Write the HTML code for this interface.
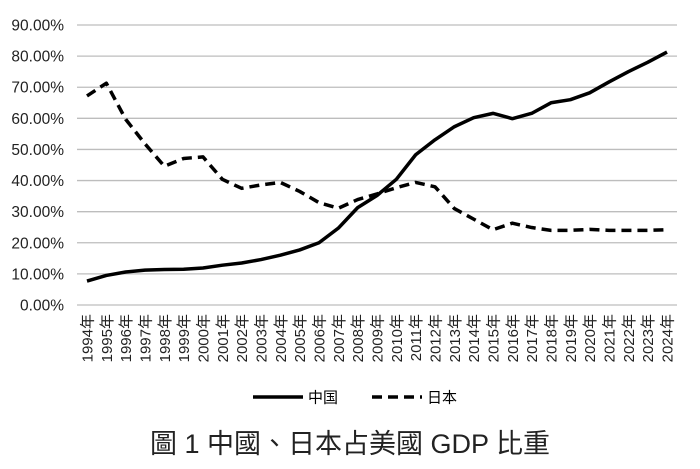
<!DOCTYPE html>
<html><head><meta charset="utf-8"><style>
body{margin:0;background:#fff;}
svg{display:block;font-family:"Liberation Sans","Noto Sans CJK TC",sans-serif;}
</style></head><body>
<svg id="chart" width="700" height="469" viewBox="0 0 700 469" xmlns="http://www.w3.org/2000/svg">
<g id="grid"></g>
<g id="yticks"></g>
<g id="xticks"></g>
<g id="series"></g>
<g>
  <line x1="253" y1="397" x2="303" y2="397" stroke="#000" stroke-width="3.5"/>
  <text x="308" y="402.5" font-size="15">中国</text>
  <line x1="372" y1="397" x2="422" y2="397" stroke="#000" stroke-width="3.5" stroke-dasharray="10,6"/>
  <text x="427" y="402.5" font-size="15">日本</text>
</g>
<text x="350" y="453" font-size="27" text-anchor="middle" fill="#222">圖 1 中國、日本占美國 GDP 比重</text>
</svg>
<script>
const years = ["1994年","1995年","1996年","1997年","1998年","1999年","2000年","2001年","2002年","2003年","2004年","2005年","2006年","2007年","2008年","2009年","2010年","2011年","2012年","2013年","2014年","2015年","2016年","2017年","2018年","2019年","2020年","2021年","2022年","2023年","2024年"];
const china = [7.7,9.5,10.6,11.2,11.4,11.5,11.9,12.8,13.5,14.6,16.0,17.7,20.0,24.7,31.3,35.2,40.4,48.3,53.1,57.3,60.2,61.6,59.9,61.6,65.0,66.0,68.2,71.7,75.0,78.0,81.3];
const japan = [67.2,71.3,59.7,51.8,44.6,47.1,47.6,40.4,37.5,38.6,39.4,36.5,32.9,31.1,33.9,35.7,37.7,39.4,38.0,31.0,27.6,24.2,26.3,24.9,24.0,24.0,24.3,24.0,24.0,24.0,24.2];
const yTicks = [0,10,20,30,40,50,60,70,80,90];
const NS="http://www.w3.org/2000/svg";
const x0=87, x1=667, yBase=305, yTop=25, yMax=90;
const xS=i=>x0+(x1-x0)*i/(years.length-1);
const yS=v=>yBase-(yBase-yTop)*v/yMax;
function mk(t,a){const e=document.createElementNS(NS,t);for(const k in a)e.setAttribute(k,a[k]);return e;}
const grid=document.getElementById('grid'), yt=document.getElementById('yticks'), xt=document.getElementById('xticks'), ser=document.getElementById('series');
yTicks.forEach(v=>{
  const l=mk('line',{x1:77,x2:677,y1:yS(v),y2:yS(v),stroke:'#bdbdbd','stroke-width':1.3});
  
  
  grid.appendChild(l);
  const t=mk('text',{x:64,y:yS(v)+5.5,'font-size':15.5,'text-anchor':'end',fill:'#222'});
  t.textContent=v.toFixed(2)+'%';
  
  
  yt.appendChild(t);
});
years.forEach((y,i)=>{
  const x=xS(i)+5.5;
  const t=mk('text',{x:x,y:314,'font-size':15,'text-anchor':'end',transform:`rotate(-90 ${x} 314)`,fill:'#222'});
  t.textContent=y;
  
  
  xt.appendChild(t);
});
function line(data,dash,name){
  const p=mk('polyline',{points:data.map((v,i)=>xS(i)+','+yS(v)).join(' '),fill:'none',stroke:'#000','stroke-width':3.5,'stroke-linejoin':'round'});
  if(dash)p.setAttribute('stroke-dasharray','10,6');
  
  
  ser.appendChild(p);
}
line(china,false,'china-line');
line(japan,true,'japan-line');
</script>
</body></html>
